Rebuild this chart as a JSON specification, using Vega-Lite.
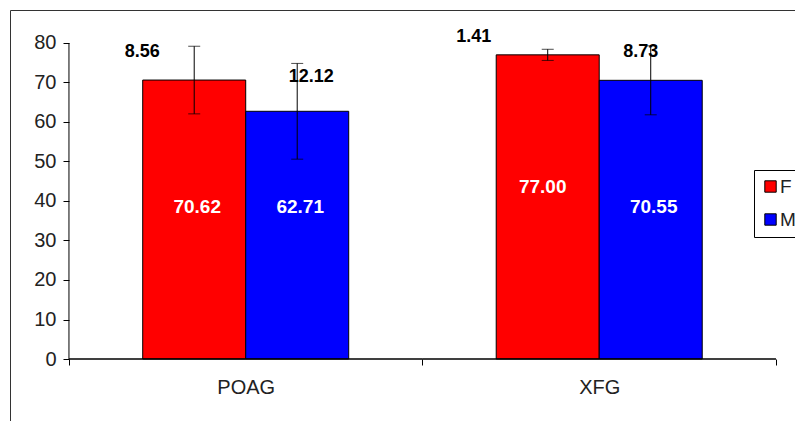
{
  "$schema": "https://vega.github.io/schema/vega-lite/v6.json",
  "width": 785,
  "height": 411,
  "autosize": {"type": "none"},
  "padding": {"left": 10, "top": 10, "right": 0, "bottom": 0},
  "background": "white",
  "config": {
    "view": {"stroke": "#333", "strokeWidth": 1},
    "font": "Liberation Sans",
    "axisY": {
      "offset": -59,
      "domain": false,
      "grid": false,
      "tickSize": 6,
      "tickColor": "#000",
      "labelFontSize": 20,
      "labelColor": "#222",
      "labelPadding": 7
    }
  },
  "data": {
    "values": [
      {"group": "POAG", "sex": "F", "mean": 70.62, "sd": 8.56, "lo": 62.06, "hi": 79.18},
      {"group": "POAG", "sex": "M", "mean": 62.71, "sd": 12.12, "lo": 50.59, "hi": 74.83},
      {"group": "XFG", "sex": "F", "mean": 77.0, "sd": 1.41, "lo": 75.59, "hi": 78.41},
      {"group": "XFG", "sex": "M", "mean": 70.55, "sd": 8.73, "lo": 61.82, "hi": 79.28}
    ]
  },
  "encoding": {
    "x": {
      "field": "group",
      "type": "nominal",
      "scale": {"paddingInner": 0, "paddingOuter": 0.1103, "align": 0.756},
      "axis": {
        "title": null,
        "orient": "bottom",
        "offset": -62,
        "domain": false,
        "tickBand": "extent",
        "tickSize": 6,
        "tickColor": "#000",
        "labelAngle": 0,
        "labelFontSize": 20,
        "labelColor": "#222",
        "labelPadding": 12
      }
    }
  },
  "layer": [
    {
      "mark": {"type": "bar", "stroke": "#000", "strokeWidth": 1},
      "encoding": {
        "xOffset": {"field": "sex", "type": "nominal", "scale": {"paddingInner": 0, "paddingOuter": 0.716}},
        "y": {
          "field": "mean",
          "type": "quantitative",
          "scale": {"domain": [-15.696, 88.354], "nice": false, "zero": false},
          "axis": {"title": null, "values": [0, 10, 20, 30, 40, 50, 60, 70, 80]}
        },
        "y2": {"datum": 0},
        "color": {
          "field": "sex",
          "type": "nominal",
          "scale": {"domain": ["F", "M"], "range": ["#FF0000", "#0000FF"]},
          "legend": {
            "title": null,
            "orient": "none",
            "legendX": 744,
            "legendY": 160,
            "strokeColor": "#000",
            "fillColor": "white",
            "padding": 7,
            "symbolType": "square",
            "symbolSize": 130,
            "symbolStrokeColor": "#000",
            "symbolStrokeWidth": 1,
            "labelFontSize": 19,
            "labelColor": "#222",
            "labelOffset": 0,
            "rowPadding": 13
          }
        }
      }
    },
    {
      "transform": [{"filter": "datum.group == 'POAG' && datum.sex == 'F'"}],
      "mark": {"type": "rule", "color": "#000", "strokeWidth": 1},
      "encoding": {
        "x": {"field": "group", "type": "nominal", "bandPosition": 0},
        "y": {"datum": 0, "type": "quantitative", "scale": {"domain": [-15.696, 88.354], "nice": false, "zero": false}, "axis": {"title": null, "values": [0, 10, 20, 30, 40, 50, 60, 70, 80]}},
        "y2": {"datum": 80}
      }
    },
    {
      "transform": [{"filter": "datum.sex == 'F'"}],
      "mark": {"type": "rect", "fill": "transparent", "stroke": "#000", "strokeWidth": 1},
      "encoding": {
        "y": {"datum": 0, "type": "quantitative", "scale": {"domain": [-15.696, 88.354], "nice": false, "zero": false}, "axis": {"title": null, "values": [0, 10, 20, 30, 40, 50, 60, 70, 80]}},
        "y2": {"datum": 0}
      }
    },
    {
      "mark": {"type": "rule", "color": "#000", "strokeWidth": 1},
      "encoding": {
        "xOffset": {"field": "sex", "type": "nominal", "scale": {"paddingInner": 0, "paddingOuter": 0.716}},
        "y": {"field": "lo", "type": "quantitative", "scale": {"domain": [-15.696, 88.354], "nice": false, "zero": false}, "axis": {"title": null, "values": [0, 10, 20, 30, 40, 50, 60, 70, 80]}},
        "y2": {"field": "hi"}
      }
    },
    {
      "mark": {"type": "tick", "color": "#000", "size": 12, "thickness": 1},
      "encoding": {
        "xOffset": {"field": "sex", "type": "nominal", "scale": {"paddingInner": 0, "paddingOuter": 0.716}},
        "y": {"field": "hi", "type": "quantitative", "scale": {"domain": [-15.696, 88.354], "nice": false, "zero": false}, "axis": {"title": null, "values": [0, 10, 20, 30, 40, 50, 60, 70, 80]}}
      }
    },
    {
      "mark": {"type": "tick", "color": "#000", "size": 12, "thickness": 1},
      "encoding": {
        "xOffset": {"field": "sex", "type": "nominal", "scale": {"paddingInner": 0, "paddingOuter": 0.716}},
        "y": {"field": "lo", "type": "quantitative", "scale": {"domain": [-15.696, 88.354], "nice": false, "zero": false}, "axis": {"title": null, "values": [0, 10, 20, 30, 40, 50, 60, 70, 80]}}
      }
    },
    {
      "transform": [{"filter": "datum.group == 'POAG' && datum.sex == 'F'"}],
      "mark": {"type": "text", "fontSize": 18, "fontWeight": "bold", "color": "#000", "baseline": "middle", "dx": -52, "dy": 6},
      "encoding": {
        "xOffset": {"field": "sex", "type": "nominal", "scale": {"paddingInner": 0, "paddingOuter": 0.716}},
        "y": {"field": "hi", "type": "quantitative", "scale": {"domain": [-15.696, 88.354], "nice": false, "zero": false}, "axis": {"title": null, "values": [0, 10, 20, 30, 40, 50, 60, 70, 80]}},
        "text": {"field": "sd", "type": "quantitative", "format": ".2f"}
      }
    },
    {
      "transform": [{"filter": "datum.group == 'POAG' && datum.sex == 'M'"}],
      "mark": {"type": "text", "fontSize": 18, "fontWeight": "bold", "color": "#000", "baseline": "middle", "dx": 14, "dy": 14},
      "encoding": {
        "xOffset": {"field": "sex", "type": "nominal", "scale": {"paddingInner": 0, "paddingOuter": 0.716}},
        "y": {"field": "hi", "type": "quantitative", "scale": {"domain": [-15.696, 88.354], "nice": false, "zero": false}, "axis": {"title": null, "values": [0, 10, 20, 30, 40, 50, 60, 70, 80]}},
        "text": {"field": "sd", "type": "quantitative", "format": ".2f"}
      }
    },
    {
      "transform": [{"filter": "datum.group == 'XFG' && datum.sex == 'F'"}],
      "mark": {"type": "text", "fontSize": 18, "fontWeight": "bold", "color": "#000", "baseline": "middle", "dx": -74, "dy": -12},
      "encoding": {
        "xOffset": {"field": "sex", "type": "nominal", "scale": {"paddingInner": 0, "paddingOuter": 0.716}},
        "y": {"field": "hi", "type": "quantitative", "scale": {"domain": [-15.696, 88.354], "nice": false, "zero": false}, "axis": {"title": null, "values": [0, 10, 20, 30, 40, 50, 60, 70, 80]}},
        "text": {"field": "sd", "type": "quantitative", "format": ".2f"}
      }
    },
    {
      "transform": [{"filter": "datum.group == 'XFG' && datum.sex == 'M'"}],
      "mark": {"type": "text", "fontSize": 18, "fontWeight": "bold", "color": "#000", "baseline": "middle", "dx": -10, "dy": 6},
      "encoding": {
        "xOffset": {"field": "sex", "type": "nominal", "scale": {"paddingInner": 0, "paddingOuter": 0.716}},
        "y": {"field": "hi", "type": "quantitative", "scale": {"domain": [-15.696, 88.354], "nice": false, "zero": false}, "axis": {"title": null, "values": [0, 10, 20, 30, 40, 50, 60, 70, 80]}},
        "text": {"field": "sd", "type": "quantitative", "format": ".2f"}
      }
    },
    {
      "transform": [{"filter": "!(datum.group == 'XFG' && datum.sex == 'F')"}],
      "mark": {"type": "text", "fontSize": 19, "fontWeight": "bold", "color": "white", "baseline": "middle", "dx": 3},
      "encoding": {
        "xOffset": {"field": "sex", "type": "nominal", "scale": {"paddingInner": 0, "paddingOuter": 0.716}},
        "y": {"datum": 38.5, "type": "quantitative", "scale": {"domain": [-15.696, 88.354], "nice": false, "zero": false}, "axis": {"title": null, "values": [0, 10, 20, 30, 40, 50, 60, 70, 80]}},
        "text": {"field": "mean", "type": "quantitative", "format": ".2f"}
      }
    },
    {
      "transform": [{"filter": "datum.group == 'XFG' && datum.sex == 'F'"}],
      "mark": {"type": "text", "fontSize": 19, "fontWeight": "bold", "color": "white", "baseline": "middle", "dx": -5},
      "encoding": {
        "xOffset": {"field": "sex", "type": "nominal", "scale": {"paddingInner": 0, "paddingOuter": 0.716}},
        "y": {"datum": 43.5, "type": "quantitative", "scale": {"domain": [-15.696, 88.354], "nice": false, "zero": false}, "axis": {"title": null, "values": [0, 10, 20, 30, 40, 50, 60, 70, 80]}},
        "text": {"field": "mean", "type": "quantitative", "format": ".2f"}
      }
    }
  ]
}
